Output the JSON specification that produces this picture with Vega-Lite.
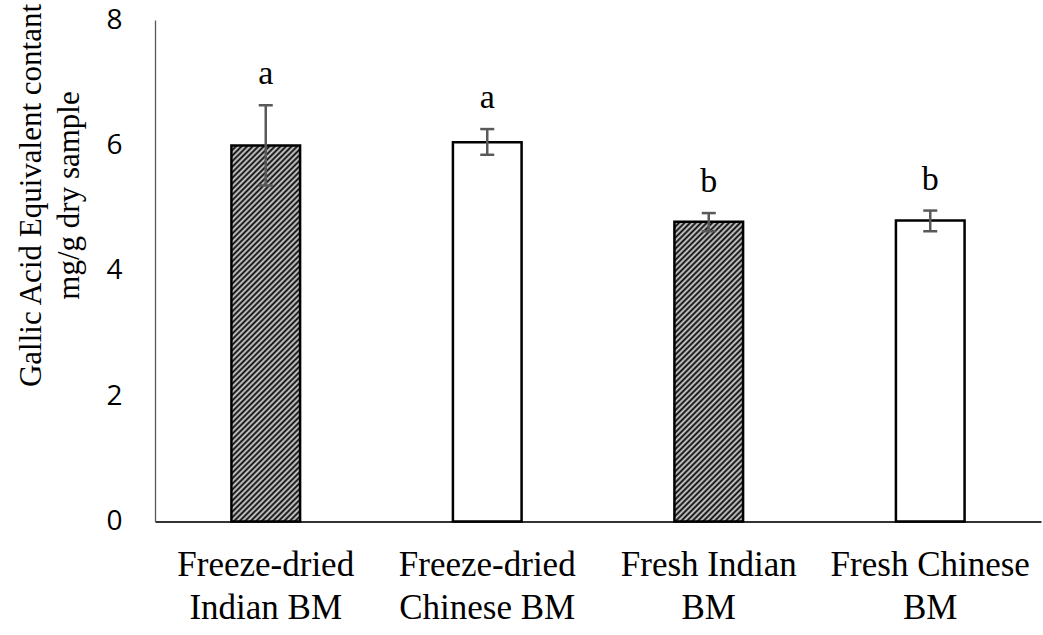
{
  "$schema": "https://vega.github.io/schema/vega-lite/v6.json",
  "width": 886,
  "height": 501.5,
  "autosize": {"type": "none"},
  "padding": {"left": 155, "top": 20, "right": 2, "bottom": 113.5},
  "background": "white",
  "config": {"view": {"stroke": null}},
  "data": {
    "values": [
      {"group": "Freeze-dried Indian BM", "mean": 6.00, "lo": 5.36, "hi": 6.64, "letter": "a"},
      {"group": "Freeze-dried Chinese BM", "mean": 6.05, "lo": 5.85, "hi": 6.26, "letter": "a"},
      {"group": "Fresh Indian BM", "mean": 4.78, "lo": 4.63, "hi": 4.92, "letter": "b"},
      {"group": "Fresh Chinese BM", "mean": 4.80, "lo": 4.63, "hi": 4.96, "letter": "b"}
    ]
  },
  "encoding": {
    "x": {
      "field": "group",
      "type": "nominal",
      "sort": null,
      "scale": {
        "domain": ["Freeze-dried Indian BM", "Freeze-dried Chinese BM", "Fresh Indian BM", "Fresh Chinese BM"],
        "paddingInner": 0.69,
        "paddingOuter": 0.345
      },
      "axis": {
        "title": null,
        "labelExpr": "datum.value == 'Freeze-dried Indian BM' ? ['Freeze-dried', 'Indian BM'] : datum.value == 'Freeze-dried Chinese BM' ? ['Freeze-dried', 'Chinese BM'] : datum.value == 'Fresh Indian BM' ? ['Fresh Indian', 'BM'] : ['Fresh Chinese', 'BM']",
        "labelAngle": 0,
        "labelFont": "Liberation Serif",
        "labelFontSize": 35,
        "labelLineHeight": 43,
        "labelBaseline": "alphabetic",
        "labelPadding": 54,
        "labelColor": "#000",
        "labelLimit": 500,
        "labelOverlap": false,
        "ticks": false,
        "tickSize": 0,
        "domainColor": "#333",
        "domainWidth": 2.2
      }
    }
  },
  "layer": [
    {
      "transform": [{"filter": "datum.group == 'Freeze-dried Indian BM'"}],
      "mark": {
        "type": "bar",
        "stroke": "#000",
        "strokeWidth": 2.5,
        "opacity": 1,
        "fill": {
          "gradient": "linear", "x1": 0, "y1": 0, "x2": 0.2092, "y2": 1.1452,
          "stops": [{"offset":0,"color":"#000"},{"offset":0.00625,"color":"#d9d9d9"},{"offset":0.0125,"color":"#000"},{"offset":0.01875,"color":"#d9d9d9"},{"offset":0.025,"color":"#000"},{"offset":0.03125,"color":"#d9d9d9"},{"offset":0.0375,"color":"#000"},{"offset":0.04375,"color":"#d9d9d9"},{"offset":0.05,"color":"#000"},{"offset":0.05625,"color":"#d9d9d9"},{"offset":0.0625,"color":"#000"},{"offset":0.06875,"color":"#d9d9d9"},{"offset":0.075,"color":"#000"},{"offset":0.08125,"color":"#d9d9d9"},{"offset":0.0875,"color":"#000"},{"offset":0.09375,"color":"#d9d9d9"},
            {"offset":0.1,"color":"#000"},{"offset":0.10625,"color":"#d9d9d9"},{"offset":0.1125,"color":"#000"},{"offset":0.11875,"color":"#d9d9d9"},{"offset":0.125,"color":"#000"},{"offset":0.13125,"color":"#d9d9d9"},{"offset":0.1375,"color":"#000"},{"offset":0.14375,"color":"#d9d9d9"},{"offset":0.15,"color":"#000"},{"offset":0.15625,"color":"#d9d9d9"},{"offset":0.1625,"color":"#000"},{"offset":0.16875,"color":"#d9d9d9"},{"offset":0.175,"color":"#000"},{"offset":0.18125,"color":"#d9d9d9"},{"offset":0.1875,"color":"#000"},{"offset":0.19375,"color":"#d9d9d9"},
            {"offset":0.2,"color":"#000"},{"offset":0.20625,"color":"#d9d9d9"},{"offset":0.2125,"color":"#000"},{"offset":0.21875,"color":"#d9d9d9"},{"offset":0.225,"color":"#000"},{"offset":0.23125,"color":"#d9d9d9"},{"offset":0.2375,"color":"#000"},{"offset":0.24375,"color":"#d9d9d9"},{"offset":0.25,"color":"#000"},{"offset":0.25625,"color":"#d9d9d9"},{"offset":0.2625,"color":"#000"},{"offset":0.26875,"color":"#d9d9d9"},{"offset":0.275,"color":"#000"},{"offset":0.28125,"color":"#d9d9d9"},{"offset":0.2875,"color":"#000"},{"offset":0.29375,"color":"#d9d9d9"},
            {"offset":0.3,"color":"#000"},{"offset":0.30625,"color":"#d9d9d9"},{"offset":0.3125,"color":"#000"},{"offset":0.31875,"color":"#d9d9d9"},{"offset":0.325,"color":"#000"},{"offset":0.33125,"color":"#d9d9d9"},{"offset":0.3375,"color":"#000"},{"offset":0.34375,"color":"#d9d9d9"},{"offset":0.35,"color":"#000"},{"offset":0.35625,"color":"#d9d9d9"},{"offset":0.3625,"color":"#000"},{"offset":0.36875,"color":"#d9d9d9"},{"offset":0.375,"color":"#000"},{"offset":0.38125,"color":"#d9d9d9"},{"offset":0.3875,"color":"#000"},{"offset":0.39375,"color":"#d9d9d9"},
            {"offset":0.4,"color":"#000"},{"offset":0.40625,"color":"#d9d9d9"},{"offset":0.4125,"color":"#000"},{"offset":0.41875,"color":"#d9d9d9"},{"offset":0.425,"color":"#000"},{"offset":0.43125,"color":"#d9d9d9"},{"offset":0.4375,"color":"#000"},{"offset":0.44375,"color":"#d9d9d9"},{"offset":0.45,"color":"#000"},{"offset":0.45625,"color":"#d9d9d9"},{"offset":0.4625,"color":"#000"},{"offset":0.46875,"color":"#d9d9d9"},{"offset":0.475,"color":"#000"},{"offset":0.48125,"color":"#d9d9d9"},{"offset":0.4875,"color":"#000"},{"offset":0.49375,"color":"#d9d9d9"},
            {"offset":0.5,"color":"#000"},{"offset":0.50625,"color":"#d9d9d9"},{"offset":0.5125,"color":"#000"},{"offset":0.51875,"color":"#d9d9d9"},{"offset":0.525,"color":"#000"},{"offset":0.53125,"color":"#d9d9d9"},{"offset":0.5375,"color":"#000"},{"offset":0.54375,"color":"#d9d9d9"},{"offset":0.55,"color":"#000"},{"offset":0.55625,"color":"#d9d9d9"},{"offset":0.5625,"color":"#000"},{"offset":0.56875,"color":"#d9d9d9"},{"offset":0.575,"color":"#000"},{"offset":0.58125,"color":"#d9d9d9"},{"offset":0.5875,"color":"#000"},{"offset":0.59375,"color":"#d9d9d9"},
            {"offset":0.6,"color":"#000"},{"offset":0.60625,"color":"#d9d9d9"},{"offset":0.6125,"color":"#000"},{"offset":0.61875,"color":"#d9d9d9"},{"offset":0.625,"color":"#000"},{"offset":0.63125,"color":"#d9d9d9"},{"offset":0.6375,"color":"#000"},{"offset":0.64375,"color":"#d9d9d9"},{"offset":0.65,"color":"#000"},{"offset":0.65625,"color":"#d9d9d9"},{"offset":0.6625,"color":"#000"},{"offset":0.66875,"color":"#d9d9d9"},{"offset":0.675,"color":"#000"},{"offset":0.68125,"color":"#d9d9d9"},{"offset":0.6875,"color":"#000"},{"offset":0.69375,"color":"#d9d9d9"},
            {"offset":0.7,"color":"#000"},{"offset":0.70625,"color":"#d9d9d9"},{"offset":0.7125,"color":"#000"},{"offset":0.71875,"color":"#d9d9d9"},{"offset":0.725,"color":"#000"},{"offset":0.73125,"color":"#d9d9d9"},{"offset":0.7375,"color":"#000"},{"offset":0.74375,"color":"#d9d9d9"},{"offset":0.75,"color":"#000"},{"offset":0.75625,"color":"#d9d9d9"},{"offset":0.7625,"color":"#000"},{"offset":0.76875,"color":"#d9d9d9"},{"offset":0.775,"color":"#000"},{"offset":0.78125,"color":"#d9d9d9"},{"offset":0.7875,"color":"#000"},{"offset":0.79375,"color":"#d9d9d9"},
            {"offset":0.8,"color":"#000"},{"offset":0.80625,"color":"#d9d9d9"},{"offset":0.8125,"color":"#000"},{"offset":0.81875,"color":"#d9d9d9"},{"offset":0.825,"color":"#000"},{"offset":0.83125,"color":"#d9d9d9"},{"offset":0.8375,"color":"#000"},{"offset":0.84375,"color":"#d9d9d9"},{"offset":0.85,"color":"#000"},{"offset":0.85625,"color":"#d9d9d9"},{"offset":0.8625,"color":"#000"},{"offset":0.86875,"color":"#d9d9d9"},{"offset":0.875,"color":"#000"},{"offset":0.88125,"color":"#d9d9d9"},{"offset":0.8875,"color":"#000"},{"offset":0.89375,"color":"#d9d9d9"},
            {"offset":0.9,"color":"#000"},{"offset":0.90625,"color":"#d9d9d9"},{"offset":0.9125,"color":"#000"},{"offset":0.91875,"color":"#d9d9d9"},{"offset":0.925,"color":"#000"},{"offset":0.93125,"color":"#d9d9d9"},{"offset":0.9375,"color":"#000"},{"offset":0.94375,"color":"#d9d9d9"},{"offset":0.95,"color":"#000"},{"offset":0.95625,"color":"#d9d9d9"},{"offset":0.9625,"color":"#000"},{"offset":0.96875,"color":"#d9d9d9"},{"offset":0.975,"color":"#000"},{"offset":0.98125,"color":"#d9d9d9"},{"offset":0.9875,"color":"#000"},{"offset":0.99375,"color":"#d9d9d9"},
            {"offset":1,"color":"#000"}]
        }
      },
      "encoding": {
        "y": {
          "field": "mean", "type": "quantitative",
          "scale": {"domain": [0, 8], "nice": false, "zero": true},
          "axis": {
            "title": ["Gallic Acid Equivalent contant", "mg/g dry sample"],
            "values": [0, 2, 4, 6, 8],
            "grid": false, "ticks": false, "tickSize": 0, "labelPadding": 33,
            "labelFont": "Open Sans", "labelFontSize": 28, "labelColor": "#000",
            "domainColor": "#595959", "domainWidth": 1.3,
            "titleFont": "Liberation Serif", "titleFontSize": 31, "titleFontWeight": "normal", "titleColor": "#000",
            "titleLineHeight": 38, "titleX": -115, "titleY": 175, "titleAngle": -90, "titleAlign": "center", "titleBaseline": "alphabetic"
          }
        }
      }
    },
    {
      "transform": [{"filter": "datum.group == 'Fresh Indian BM'"}],
      "mark": {
        "type": "bar",
        "stroke": "#000",
        "strokeWidth": 2.5,
        "opacity": 1,
        "fill": {
          "gradient": "linear", "x1": 0, "y1": 0, "x2": 0.3235, "y2": 1.411,
          "stops": [{"offset":0,"color":"#000"},{"offset":0.00625,"color":"#d9d9d9"},{"offset":0.0125,"color":"#000"},{"offset":0.01875,"color":"#d9d9d9"},{"offset":0.025,"color":"#000"},{"offset":0.03125,"color":"#d9d9d9"},{"offset":0.0375,"color":"#000"},{"offset":0.04375,"color":"#d9d9d9"},{"offset":0.05,"color":"#000"},{"offset":0.05625,"color":"#d9d9d9"},{"offset":0.0625,"color":"#000"},{"offset":0.06875,"color":"#d9d9d9"},{"offset":0.075,"color":"#000"},{"offset":0.08125,"color":"#d9d9d9"},{"offset":0.0875,"color":"#000"},{"offset":0.09375,"color":"#d9d9d9"},
            {"offset":0.1,"color":"#000"},{"offset":0.10625,"color":"#d9d9d9"},{"offset":0.1125,"color":"#000"},{"offset":0.11875,"color":"#d9d9d9"},{"offset":0.125,"color":"#000"},{"offset":0.13125,"color":"#d9d9d9"},{"offset":0.1375,"color":"#000"},{"offset":0.14375,"color":"#d9d9d9"},{"offset":0.15,"color":"#000"},{"offset":0.15625,"color":"#d9d9d9"},{"offset":0.1625,"color":"#000"},{"offset":0.16875,"color":"#d9d9d9"},{"offset":0.175,"color":"#000"},{"offset":0.18125,"color":"#d9d9d9"},{"offset":0.1875,"color":"#000"},{"offset":0.19375,"color":"#d9d9d9"},
            {"offset":0.2,"color":"#000"},{"offset":0.20625,"color":"#d9d9d9"},{"offset":0.2125,"color":"#000"},{"offset":0.21875,"color":"#d9d9d9"},{"offset":0.225,"color":"#000"},{"offset":0.23125,"color":"#d9d9d9"},{"offset":0.2375,"color":"#000"},{"offset":0.24375,"color":"#d9d9d9"},{"offset":0.25,"color":"#000"},{"offset":0.25625,"color":"#d9d9d9"},{"offset":0.2625,"color":"#000"},{"offset":0.26875,"color":"#d9d9d9"},{"offset":0.275,"color":"#000"},{"offset":0.28125,"color":"#d9d9d9"},{"offset":0.2875,"color":"#000"},{"offset":0.29375,"color":"#d9d9d9"},
            {"offset":0.3,"color":"#000"},{"offset":0.30625,"color":"#d9d9d9"},{"offset":0.3125,"color":"#000"},{"offset":0.31875,"color":"#d9d9d9"},{"offset":0.325,"color":"#000"},{"offset":0.33125,"color":"#d9d9d9"},{"offset":0.3375,"color":"#000"},{"offset":0.34375,"color":"#d9d9d9"},{"offset":0.35,"color":"#000"},{"offset":0.35625,"color":"#d9d9d9"},{"offset":0.3625,"color":"#000"},{"offset":0.36875,"color":"#d9d9d9"},{"offset":0.375,"color":"#000"},{"offset":0.38125,"color":"#d9d9d9"},{"offset":0.3875,"color":"#000"},{"offset":0.39375,"color":"#d9d9d9"},
            {"offset":0.4,"color":"#000"},{"offset":0.40625,"color":"#d9d9d9"},{"offset":0.4125,"color":"#000"},{"offset":0.41875,"color":"#d9d9d9"},{"offset":0.425,"color":"#000"},{"offset":0.43125,"color":"#d9d9d9"},{"offset":0.4375,"color":"#000"},{"offset":0.44375,"color":"#d9d9d9"},{"offset":0.45,"color":"#000"},{"offset":0.45625,"color":"#d9d9d9"},{"offset":0.4625,"color":"#000"},{"offset":0.46875,"color":"#d9d9d9"},{"offset":0.475,"color":"#000"},{"offset":0.48125,"color":"#d9d9d9"},{"offset":0.4875,"color":"#000"},{"offset":0.49375,"color":"#d9d9d9"},
            {"offset":0.5,"color":"#000"},{"offset":0.50625,"color":"#d9d9d9"},{"offset":0.5125,"color":"#000"},{"offset":0.51875,"color":"#d9d9d9"},{"offset":0.525,"color":"#000"},{"offset":0.53125,"color":"#d9d9d9"},{"offset":0.5375,"color":"#000"},{"offset":0.54375,"color":"#d9d9d9"},{"offset":0.55,"color":"#000"},{"offset":0.55625,"color":"#d9d9d9"},{"offset":0.5625,"color":"#000"},{"offset":0.56875,"color":"#d9d9d9"},{"offset":0.575,"color":"#000"},{"offset":0.58125,"color":"#d9d9d9"},{"offset":0.5875,"color":"#000"},{"offset":0.59375,"color":"#d9d9d9"},
            {"offset":0.6,"color":"#000"},{"offset":0.60625,"color":"#d9d9d9"},{"offset":0.6125,"color":"#000"},{"offset":0.61875,"color":"#d9d9d9"},{"offset":0.625,"color":"#000"},{"offset":0.63125,"color":"#d9d9d9"},{"offset":0.6375,"color":"#000"},{"offset":0.64375,"color":"#d9d9d9"},{"offset":0.65,"color":"#000"},{"offset":0.65625,"color":"#d9d9d9"},{"offset":0.6625,"color":"#000"},{"offset":0.66875,"color":"#d9d9d9"},{"offset":0.675,"color":"#000"},{"offset":0.68125,"color":"#d9d9d9"},{"offset":0.6875,"color":"#000"},{"offset":0.69375,"color":"#d9d9d9"},
            {"offset":0.7,"color":"#000"},{"offset":0.70625,"color":"#d9d9d9"},{"offset":0.7125,"color":"#000"},{"offset":0.71875,"color":"#d9d9d9"},{"offset":0.725,"color":"#000"},{"offset":0.73125,"color":"#d9d9d9"},{"offset":0.7375,"color":"#000"},{"offset":0.74375,"color":"#d9d9d9"},{"offset":0.75,"color":"#000"},{"offset":0.75625,"color":"#d9d9d9"},{"offset":0.7625,"color":"#000"},{"offset":0.76875,"color":"#d9d9d9"},{"offset":0.775,"color":"#000"},{"offset":0.78125,"color":"#d9d9d9"},{"offset":0.7875,"color":"#000"},{"offset":0.79375,"color":"#d9d9d9"},
            {"offset":0.8,"color":"#000"},{"offset":0.80625,"color":"#d9d9d9"},{"offset":0.8125,"color":"#000"},{"offset":0.81875,"color":"#d9d9d9"},{"offset":0.825,"color":"#000"},{"offset":0.83125,"color":"#d9d9d9"},{"offset":0.8375,"color":"#000"},{"offset":0.84375,"color":"#d9d9d9"},{"offset":0.85,"color":"#000"},{"offset":0.85625,"color":"#d9d9d9"},{"offset":0.8625,"color":"#000"},{"offset":0.86875,"color":"#d9d9d9"},{"offset":0.875,"color":"#000"},{"offset":0.88125,"color":"#d9d9d9"},{"offset":0.8875,"color":"#000"},{"offset":0.89375,"color":"#d9d9d9"},
            {"offset":0.9,"color":"#000"},{"offset":0.90625,"color":"#d9d9d9"},{"offset":0.9125,"color":"#000"},{"offset":0.91875,"color":"#d9d9d9"},{"offset":0.925,"color":"#000"},{"offset":0.93125,"color":"#d9d9d9"},{"offset":0.9375,"color":"#000"},{"offset":0.94375,"color":"#d9d9d9"},{"offset":0.95,"color":"#000"},{"offset":0.95625,"color":"#d9d9d9"},{"offset":0.9625,"color":"#000"},{"offset":0.96875,"color":"#d9d9d9"},{"offset":0.975,"color":"#000"},{"offset":0.98125,"color":"#d9d9d9"},{"offset":0.9875,"color":"#000"},{"offset":0.99375,"color":"#d9d9d9"},
            {"offset":1,"color":"#000"}]
        }
      },
      "encoding": {
        "y": {"field": "mean", "type": "quantitative", "scale": {"domain": [0, 8], "nice": false}, "axis": {"title": ["Gallic Acid Equivalent contant", "mg/g dry sample"], "values": [0, 2, 4, 6, 8]}}
      }
    },
    {
      "transform": [{"filter": "datum.group == 'Freeze-dried Chinese BM' || datum.group == 'Fresh Chinese BM'"}],
      "mark": {"type": "bar", "stroke": "#000", "strokeWidth": 2.5, "fill": "#fff", "opacity": 1},
      "encoding": {
        "y": {"field": "mean", "type": "quantitative", "scale": {"domain": [0, 8], "nice": false}, "axis": {"title": ["Gallic Acid Equivalent contant", "mg/g dry sample"], "values": [0, 2, 4, 6, 8]}}
      }
    },
    {
      "mark": {"type": "rule", "color": "#595959", "strokeWidth": 2.5, "opacity": 1},
      "encoding": {
        "y": {"field": "lo", "type": "quantitative", "scale": {"domain": [0, 8], "nice": false}, "axis": {"title": ["Gallic Acid Equivalent contant", "mg/g dry sample"], "values": [0, 2, 4, 6, 8]}},
        "y2": {"field": "hi"}
      }
    },
    {
      "mark": {"type": "tick", "color": "#595959", "size": 14, "thickness": 2.5, "opacity": 1},
      "encoding": {
        "y": {"field": "lo", "type": "quantitative", "scale": {"domain": [0, 8], "nice": false}, "axis": {"title": ["Gallic Acid Equivalent contant", "mg/g dry sample"], "values": [0, 2, 4, 6, 8]}}
      }
    },
    {
      "mark": {"type": "tick", "color": "#595959", "size": 14, "thickness": 2.5, "opacity": 1},
      "encoding": {
        "y": {"field": "hi", "type": "quantitative", "scale": {"domain": [0, 8], "nice": false}, "axis": {"title": ["Gallic Acid Equivalent contant", "mg/g dry sample"], "values": [0, 2, 4, 6, 8]}}
      }
    },
    {
      "mark": {"type": "text", "font": "Liberation Serif", "fontSize": 34, "baseline": "alphabetic", "dy": -21, "color": "#000"},
      "encoding": {
        "y": {"field": "hi", "type": "quantitative", "scale": {"domain": [0, 8], "nice": false}, "axis": {"title": ["Gallic Acid Equivalent contant", "mg/g dry sample"], "values": [0, 2, 4, 6, 8]}},
        "text": {"field": "letter"}
      }
    }
  ]
}
